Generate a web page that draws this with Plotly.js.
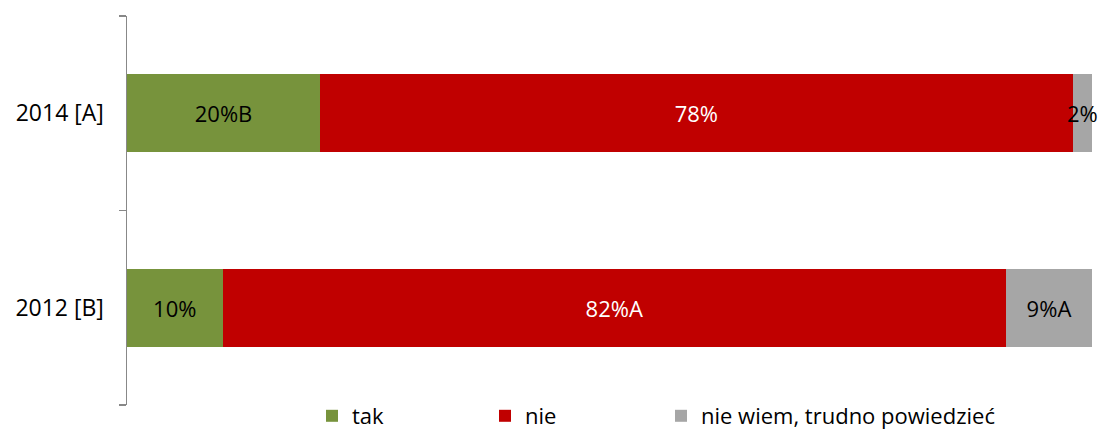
<!DOCTYPE html>
<html>
<head>
<meta charset="utf-8">
<script src="https://cdn.plot.ly/plotly-3.0.1.min.js"></script>
<style>html,body{margin:0;padding:0;background:#fff;}#chart{width:1099px;height:430px;}</style>
</head>
<body>
<div id="chart"></div>
<script>
const categories = ['2014 [A]', '2012 [B]'];
const seriesNames = ['tak', 'nie', 'nie wiem, trudno powiedzieć'];
const takValues = [20, 10];
const nieValues = [78, 82];
const nieWiemValues = [2, 9];
const takLabels = ['20%B', '10%'];
const nieLabels = ['78%', '82%A'];
const nieWiemLabels = ['2%', '9%A'];
const colors = ['#77933C', '#C00000', '#A6A6A6'];
const textColors = ['#000000', '#FFFFFF', '#000000'];

const font = 'Open Sans, sans-serif';
const vals = [takValues, nieValues, nieWiemValues];
const labs = [takLabels, nieLabels, nieWiemLabels];
const legendIds = ['legend', 'legend2', 'legend3'];
const legendX = [312, 485, 661];

const traces = seriesNames.map((n, i) => ({
  type: 'bar',
  orientation: 'h',
  name: n,
  legend: legendIds[i],
  y: categories,
  x: vals[i],
  text: labs[i],
  textposition: 'inside',
  insidetextanchor: 'middle',
  textangle: 0,
  constraintext: 'none',
  cliponaxis: false,
  textfont: {family: font, size: 22, color: textColors[i]},
  marker: {color: colors[i], line: {width: 0}},
  hoverinfo: 'skip'
}));

const layout = {
  width: 1099,
  height: 430,
  margin: {l: 127, r: 7, t: 16, b: 25, autoexpand: false},
  barmode: 'stack',
  barnorm: 'percent',
  bargap: 0.6,
  paper_bgcolor: '#fff',
  plot_bgcolor: '#fff',
  showlegend: true,
  xaxis: {
    range: [0, 100],
    showgrid: false,
    zeroline: false,
    showticklabels: false,
    showline: false,
    ticks: '',
    fixedrange: true
  },
  yaxis: {
    type: 'category',
    categoryorder: 'array',
    categoryarray: ['2012 [B]', '2014 [A]'],
    range: [-0.5, 1.5],
    showgrid: false,
    zeroline: false,
    showline: true,
    linecolor: '#888888',
    linewidth: 1.5,
    ticks: 'outside',
    tickson: 'boundaries',
    ticklen: 7,
    tickcolor: '#888888',
    tickwidth: 1.5,
    ticklabelstandoff: 17,
    tickfont: {family: font, size: 23, color: '#000'},
    fixedrange: true
  }
};

legendIds.forEach((id, i) => {
  layout[id] = {
    orientation: 'h',
    x: legendX[i] / 1099, xref: 'container', xanchor: 'left',
    y: 14 / 430, yref: 'container', yanchor: 'middle',
    font: {family: font, size: 22, color: '#000'},
    bgcolor: 'rgba(0,0,0,0)',
    itemclick: false
  };
});

Plotly.newPlot('chart', traces, layout, {displayModeBar: false, staticPlot: true});
</script>
</body>
</html>
